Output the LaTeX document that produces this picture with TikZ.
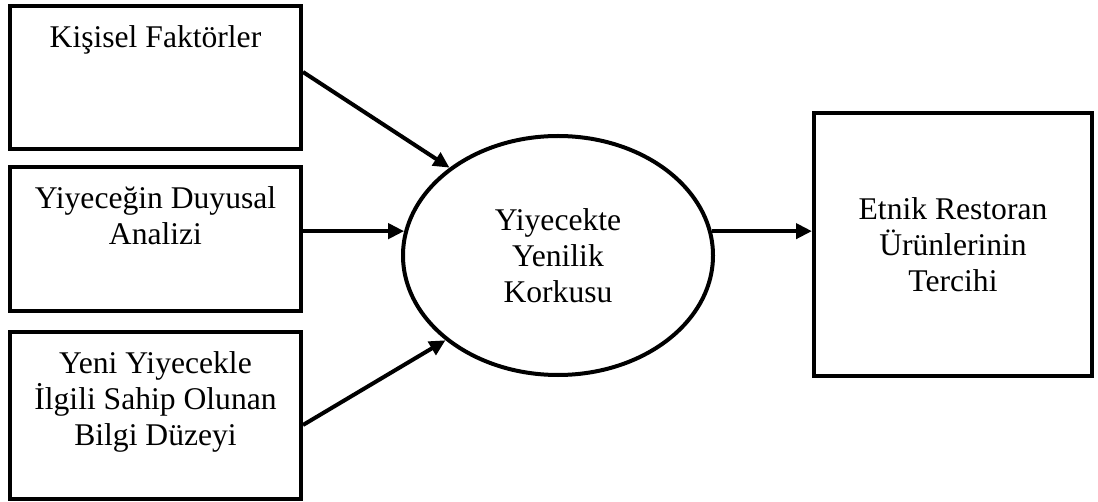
\documentclass[tikz,border=0pt]{standalone}
\usepackage{fontspec}
\setmainfont{Liberation Serif}
\usetikzlibrary{arrows.meta,shapes.geometric}

\begin{document}
\begin{tikzpicture}[x=.5pt,y=-.5pt,
   box/.style={draw,line width=2pt,minimum width=145.5pt,inner sep=0pt},
   txt/.style={font=\fontsize{15.8}{18}\selectfont,align=center},
   toplabel/.style={txt,anchor=north,yshift=-7.5pt},
   arr/.style={line width=2pt,-{Triangle[length=8pt,width=7.5pt]}}]
   \useasboundingbox (0,0) rectangle (1098,502);

   \node[box,minimum height=71.5pt,
     label={[toplabel]north:Kişisel Faktörler}] (kf) at (155.5,77.5) {};
   \node[box,minimum height=72pt,
     label={[toplabel]north:Yiyeceğin Duyusal\\Analizi}] (yd) at (155.5,239) {};
   \node[box,minimum height=83.5pt,
     label={[toplabel]north:Yeni Yiyecekle\\İlgili Sahip Olunan\\Bilgi Düzeyi}] (bd) at (155.5,415.5) {};

   \node[draw,ellipse,line width=2pt,minimum width=155pt,minimum height=119.5pt,txt]
     (yk) at (558,255.5) {Yiyecekte\\Yenilik\\Korkusu};
   \node[box,txt,minimum width=139pt,minimum height=131.5pt]
     (et) at (953,244.5) {Etnik Restoran\\Ürünlerinin\\Tercihi};

   \draw[arr] ([yshift=2.75pt]kf.east) -- (yk.141);
   \draw[arr] (yk.171 -| yd.east) -- (yk.171);
   \draw[arr] ([yshift=-4.75pt]bd.east) -- (yk.217);
   \draw[arr] (yk.9) -- (yk.9 -| et.west);
\end{tikzpicture}
\end{document}
